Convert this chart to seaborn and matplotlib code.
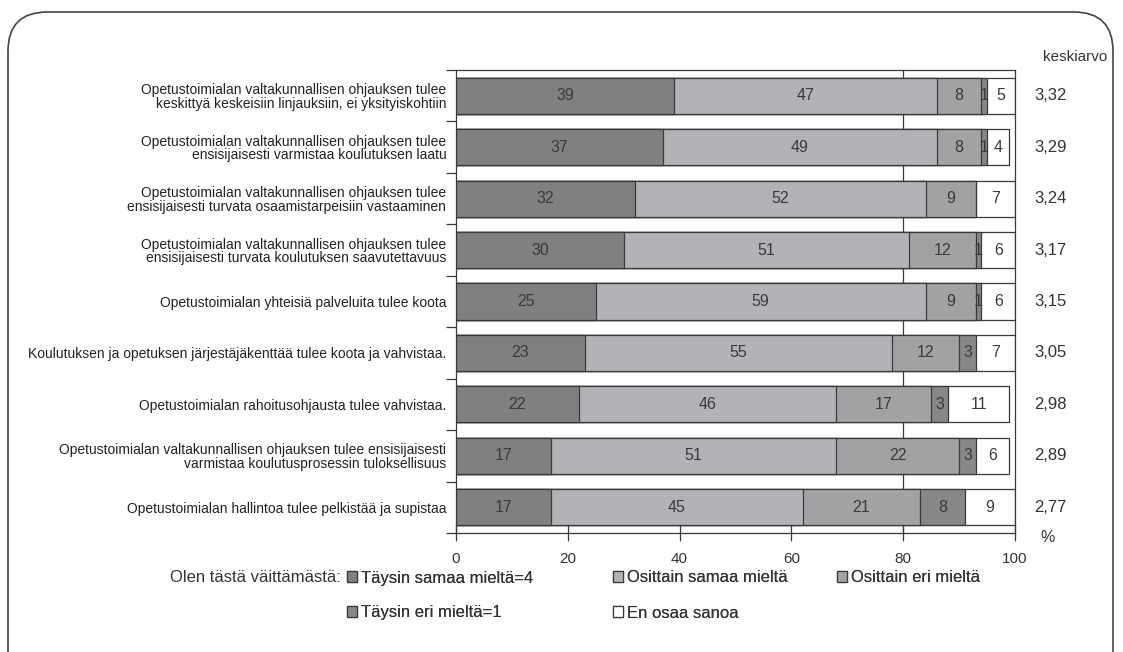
import matplotlib
matplotlib.use('Agg')
import matplotlib.pyplot as plt
from matplotlib.patches import Patch, FancyBboxPatch
import seaborn as sns
import pandas as pd
import numpy as np

# Väittämät
statements = [
    'Opetustoimialan valtakunnallisen ohjauksen tulee\nkeskittyä keskeisiin linjauksiin, ei yksityiskohtiin',
    'Opetustoimialan valtakunnallisen ohjauksen tulee\nensisijaisesti varmistaa koulutuksen laatu',
    'Opetustoimialan valtakunnallisen ohjauksen tulee\nensisijaisesti turvata osaamistarpeisiin vastaaminen',
    'Opetustoimialan valtakunnallisen ohjauksen tulee\nensisijaisesti turvata koulutuksen saavutettavuus',
    'Opetustoimialan yhteisiä palveluita tulee koota',
    'Koulutuksen ja opetuksen järjestäjäkenttää tulee koota ja vahvistaa.',
    'Opetustoimialan rahoitusohjausta tulee vahvistaa.',
    'Opetustoimialan valtakunnallisen ohjauksen tulee ensisijaisesti\nvarmistaa koulutusprosessin tuloksellisuus',
    'Opetustoimialan hallintoa tulee pelkistää ja supistaa',
]
taysin_samaa = [39, 37, 32, 30, 25, 23, 22, 17, 17]
osittain_samaa = [47, 49, 52, 51, 59, 55, 46, 51, 45]
osittain_eri = [8, 8, 9, 12, 9, 12, 17, 22, 21]
taysin_eri = [1, 1, 0, 1, 1, 3, 3, 3, 8]
en_osaa = [5, 4, 7, 6, 6, 7, 11, 6, 9]
keskiarvo = ['3,32', '3,29', '3,24', '3,17', '3,15', '3,05', '2,98', '2,89', '2,77']

series_names = ['Täysin samaa mieltä=4', 'Osittain samaa mieltä', 'Osittain eri mieltä',
                'Täysin eri mieltä=1', 'En osaa sanoa']
colors = ['#808080', '#b3b3b7', '#a2a2a5', '#87878a', '#ffffff']
edge = '#3a3a3a'

plt.rcParams['font.family'] = ['Liberation Sans', 'DejaVu Sans']

df = pd.DataFrame({'statement': statements,
                   series_names[0]: taysin_samaa,
                   series_names[1]: osittain_samaa,
                   series_names[2]: osittain_eri,
                   series_names[3]: taysin_eri,
                   series_names[4]: en_osaa})
cum = df[series_names].cumsum(axis=1)

W, H = 1123, 652
fig = plt.figure(figsize=(W / 100, H / 100), dpi=100)
ax = fig.add_axes([456 / W, 1 - 533 / H, 559 / W, 463 / H])

# pinotut palkit: piirretään suurimmasta kumulatiivisesta summasta alkaen
for name, color in reversed(list(zip(series_names, colors))):
    sns.barplot(x=cum[name], y=df['statement'], orient='h', color=color,
                edgecolor=edge, linewidth=0.9, width=0.7, ax=ax, zorder=2)

# arvot palkkien sisään + keskiarvot oikealle
for i in range(len(statements)):
    left = 0
    for name in series_names:
        v = df[name].iloc[i]
        if v > 0:
            ax.text(left + v / 2, i, str(v), ha='center', va='center',
                    fontsize=11.5, color='#3a3a3a', zorder=3)
        left += v
    ax.text(1.034, i, keskiarvo[i], transform=ax.get_yaxis_transform(),
            ha='left', va='center', fontsize=12, color='#333333')

ax.text(1.05, 1.012, 'keskiarvo', transform=ax.transAxes, ha='left', va='bottom',
        fontsize=11, color='#333333')
ax.text(1.045, -0.01, '%', transform=ax.transAxes, ha='left', va='center',
        fontsize=11.5, color='#333333')

ax.axvline(80, color=edge, linewidth=0.9, zorder=0)

ax.set_xlim(0, 100)
ax.set_ylim(8.5, -0.5)
ax.set_xticks([0, 20, 40, 60, 80, 100])
ax.tick_params(axis='x', direction='inout', length=11, width=0.9, colors=edge,
               labelsize=11, labelcolor='#333333', pad=8)
ax.set_yticks(np.arange(len(statements)))
ax.set_yticklabels(statements, fontsize=10, color='#222222', linespacing=0.95)
ax.tick_params(axis='y', which='major', length=0, pad=7)
ax.set_yticks(np.arange(-0.5, len(statements), 1), minor=True)
ax.tick_params(axis='y', which='minor', length=7, width=0.9, colors=edge)
ax.set_xlabel('')
ax.set_ylabel('')
for s in ax.spines.values():
    s.set_color(edge)
    s.set_linewidth(0.9)

# selite: otsikko vasemmalla, kohteet kahdella rivillä
fig.text(341 / W, 1 - 578 / H, 'Olen tästä väittämästä:', ha='right', va='center',
         fontsize=12, color='#333333')
legend_pos = [(347, 578), (613, 578), (837, 578), (347, 613), (613, 613)]
for (px, py), name, color in zip(legend_pos, series_names, colors):
    leg = fig.legend([Patch(facecolor=color, edgecolor=edge, linewidth=0.9)], [name],
                     loc='center left', bbox_to_anchor=(px / W, 1 - py / H),
                     frameon=False, fontsize=12, handlelength=0.62, handleheight=0.62,
                     handletextpad=0.2, borderpad=0, borderaxespad=0,
                     labelcolor='#333333')
    fig.add_artist(leg)

# pyöristetty kehys
frame = FancyBboxPatch((8 / W, -0.1), 1105 / W, 1.1 - 12 / H,
                       boxstyle='round,pad=0,rounding_size=0.035',
                       transform=fig.transFigure, facecolor='none',
                       edgecolor='#444444', linewidth=1.2, mutation_aspect=W / H)
fig.add_artist(frame)

fig.savefig('out.png', dpi=100, facecolor='white')
